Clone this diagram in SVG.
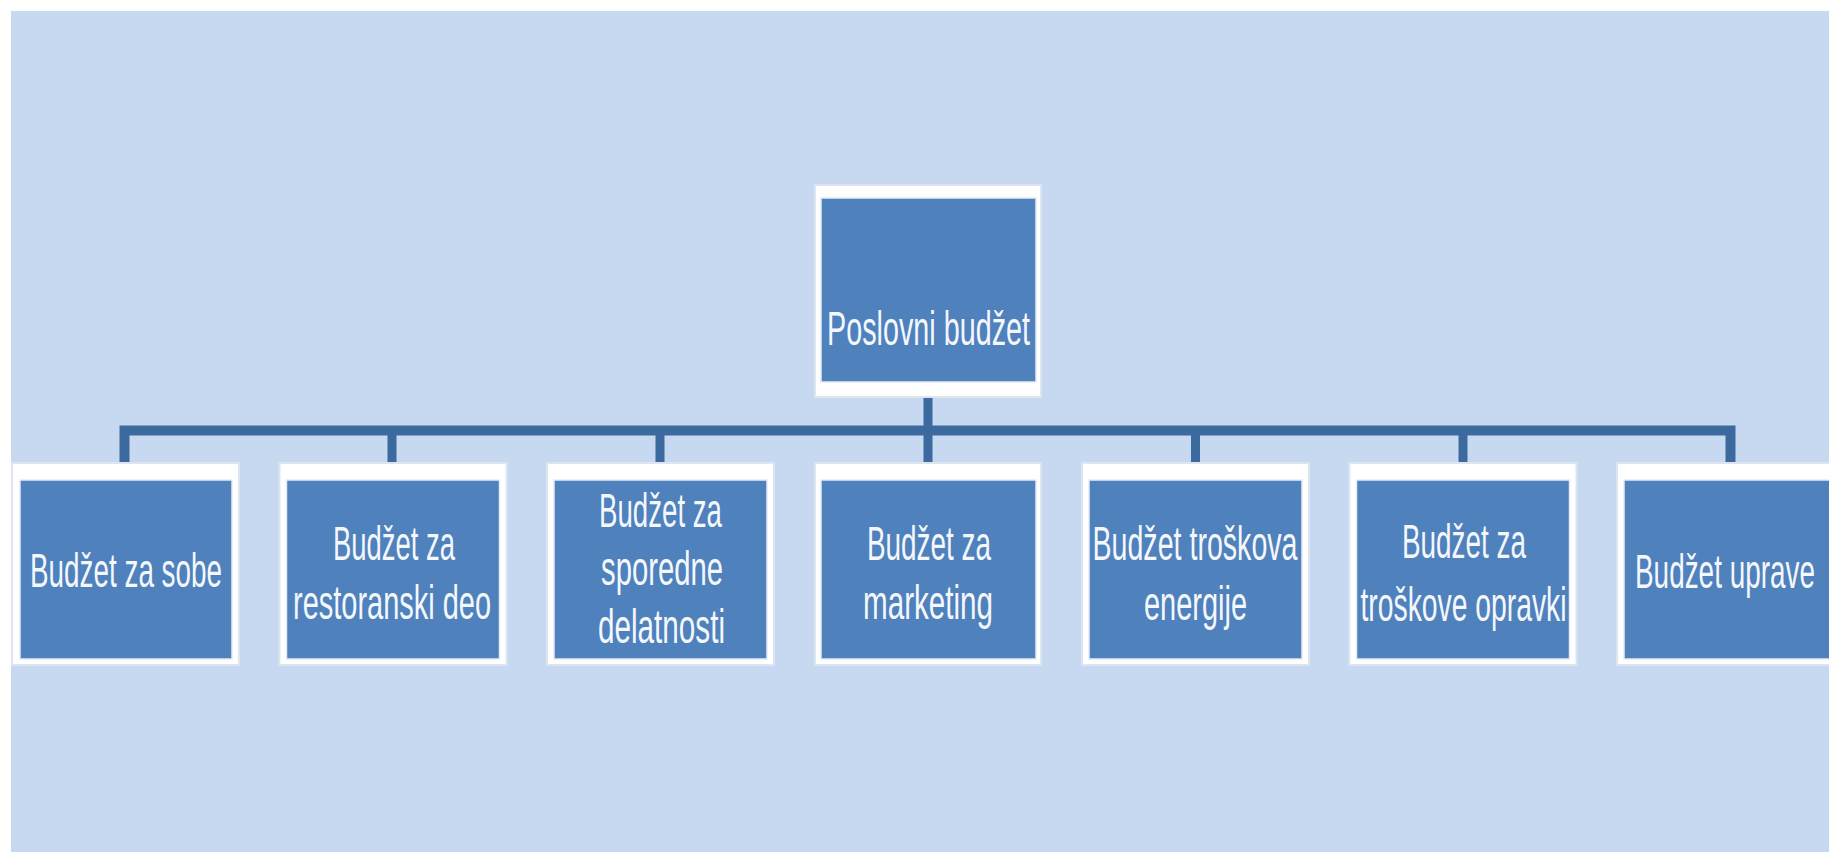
<svg xmlns="http://www.w3.org/2000/svg" width="1829" height="852" viewBox="0 0 1829 852">
<style>
.frame{fill:#FFFFFF;stroke:#DCE5F0;stroke-width:2}
.inner{fill:#4F81BD;stroke:#E4ECF6;stroke-width:1.5}
.lbl{font-family:"Liberation Sans Narrow","Liberation Sans",Arial,sans-serif;font-size:48px;fill:#F4F7FB;text-anchor:middle}
.conn{stroke:#3D6A9E;stroke-width:10;fill:none;stroke-linecap:butt;stroke-linejoin:miter}
.drop{stroke:#3D6A9E;stroke-width:9;fill:none}
</style>
<rect x="0" y="0" width="1829" height="852" fill="#FFFFFF"/>
<rect x="11" y="11" width="1818" height="841" fill="#C6D9F0"/>
<g id="connectors">
<line class="drop" x1="928" y1="397" x2="928" y2="431"/>
<path class="conn" d="M124.5,468 V430.5 H1730.5 V468"/>
<line class="drop" x1="392" y1="430" x2="392" y2="468"/>
<line class="drop" x1="660" y1="430" x2="660" y2="468"/>
<line class="drop" x1="928" y1="430" x2="928" y2="468"/>
<line class="drop" x1="1195.5" y1="430" x2="1195.5" y2="468"/>
<line class="drop" x1="1463" y1="430" x2="1463" y2="468"/>
</g>
<g id="root">
<rect class="frame" x="815" y="185" width="226" height="212"/>
<rect class="inner" x="821" y="198" width="215" height="184"/>
<text class="lbl" x="928.5" y="345" textLength="203" lengthAdjust="spacingAndGlyphs">Poslovni budžet</text>
</g>
<g id="n1">
<rect class="frame" x="12" y="463" width="227" height="202"/>
<rect class="inner" x="20" y="480" width="212" height="179"/>
<text class="lbl" x="126" y="587" textLength="192" lengthAdjust="spacingAndGlyphs">Budžet za sobe</text>
</g>
<g id="n2">
<rect class="frame" x="279.5" y="463" width="227" height="202"/>
<rect class="inner" x="286.5" y="480" width="213" height="179"/>
<text class="lbl" x="394" y="560" textLength="122" lengthAdjust="spacingAndGlyphs">Budžet za</text>
<text class="lbl" x="392" y="619" textLength="198" lengthAdjust="spacingAndGlyphs">restoranski deo</text>
</g>
<g id="n3">
<rect class="frame" x="547" y="463" width="227" height="202"/>
<rect class="inner" x="554" y="480" width="213" height="179"/>
<text class="lbl" x="660.5" y="527" textLength="123" lengthAdjust="spacingAndGlyphs">Budžet za</text>
<text class="lbl" x="662" y="585" textLength="122" lengthAdjust="spacingAndGlyphs">sporedne</text>
<text class="lbl" x="661.5" y="643" textLength="127" lengthAdjust="spacingAndGlyphs">delatnosti</text>
</g>
<g id="n4">
<rect class="frame" x="815" y="463" width="226" height="202"/>
<rect class="inner" x="821" y="480" width="215" height="179"/>
<text class="lbl" x="929" y="560" textLength="124" lengthAdjust="spacingAndGlyphs">Budžet za</text>
<text class="lbl" x="928" y="619" textLength="130" lengthAdjust="spacingAndGlyphs">marketing</text>
</g>
<g id="n5">
<rect class="frame" x="1082" y="463" width="227" height="202"/>
<rect class="inner" x="1089" y="480" width="213" height="179"/>
<text class="lbl" x="1195" y="560" textLength="205" lengthAdjust="spacingAndGlyphs">Budžet troškova</text>
<text class="lbl" x="1195.5" y="620" textLength="103" lengthAdjust="spacingAndGlyphs">energije</text>
</g>
<g id="n6">
<rect class="frame" x="1349.5" y="463" width="227" height="202"/>
<rect class="inner" x="1356.5" y="480" width="213" height="179"/>
<text class="lbl" x="1464" y="558" textLength="124" lengthAdjust="spacingAndGlyphs">Budžet za</text>
<text class="lbl" x="1463.5" y="621" textLength="206" lengthAdjust="spacingAndGlyphs">troškove opravki</text>
</g>
<g id="n7">
<rect class="frame" x="1617" y="463" width="227" height="202"/>
<rect class="inner" x="1624" y="480" width="213" height="179"/>
<text class="lbl" x="1725" y="588" textLength="180" lengthAdjust="spacingAndGlyphs">Budžet uprave</text>
</g>
</svg>
